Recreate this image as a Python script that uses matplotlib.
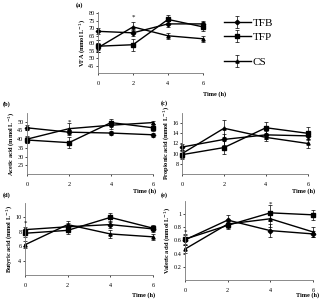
import matplotlib
matplotlib.use("Agg")
import matplotlib.pyplot as plt
import numpy as np

plt.rcParams['font.family'] = ['Liberation Serif', 'DejaVu Serif']

time_h = [0, 2, 4, 6]
series = ["TFB", "TFP", "CS"]
markers = {"TFB": "D", "TFP": "s", "CS": "^"}

# values, per panel: mean and error for each series
vfa = {"TFB": [68, 67, 73, 73], "TFP": [58, 59, 76, 71], "CS": [57, 71, 65, 63]}
vfa_err = {"TFB": [2, 2, 2, 2], "TFP": [4, 4, 3, 3], "CS": [3, 3, 2, 2]}
acetic = {"TFB": [46.5, 44, 43.5, 42.5], "TFP": [39.5, 38, 49.5, 46.5], "CS": [40, 46, 48, 49.5]}
acetic_err = {"TFB": [1.5, 1.5, 1, 1], "TFP": [2, 3, 2, 2], "CS": [2, 3, 2, 1]}
propionic = {"TFB": [11.3, 12.8, 13.7, 13.5], "TFP": [9.8, 11.2, 15.1, 14], "CS": [10, 15, 13.2, 12]}
propionic_err = {"TFB": [0.6, 1, 0.8, 0.8], "TFP": [0.8, 1.2, 1.2, 1.2], "CS": [0.8, 1.7, 0.8, 0.8]}
butyric = {"TFB": [8.3, 8.7, 9, 8.4], "TFP": [7.8, 8.2, 10, 8.5], "CS": [6.2, 9, 7.7, 7.3]}
butyric_err = {"TFB": [0.4, 0.5, 0.5, 0.4], "TFP": [0.5, 0.5, 0.6, 0.4], "CS": [0.5, 0.5, 0.5, 0.4]}
valeric = {"TFB": [0.61, 0.91, 0.75, 0.70], "TFP": [0.62, 0.83, 1.02, 0.99], "CS": [0.47, 0.85, 0.93, 0.73]}
valeric_err = {"TFB": [0.08, 0.08, 0.1, 0.05], "TFP": [0.08, 0.05, 0.12, 0.08], "CS": [0.06, 0.06, 0.12, 0.07]}

panels = [
    # tag, data, err, ylabel, ylim, yticks, stars, axes box px (l, t, r, b), tag px, time label px
    ("(a)", vfa, vfa_err, "VFA (mmol L$^{-1}$)", (40, 81), np.arange(45, 81, 5), [(2, 77.5)],
     (98, 12, 203, 73), (76, 5), (203, 94)),
    ("(b)", acetic, acetic_err, "Acetic acid (mmol L$^{-1}$)", (20, 55), np.arange(25, 51, 5), [(2, 50)],
     (27, 113, 153, 174), (3, 104), (133, 191)),
    ("(c)", propionic, propionic_err, "Propionic acid (mmol L$^{-1}$)", (6, 18), np.arange(8, 17, 2), [],
     (182, 113, 308, 174), (161, 103), (292, 191)),
    ("(d)", butyric, butyric_err, "Butyric acid (mmol L$^{-1}$)", (2, 12), np.arange(4, 11, 2), [(0, 9.2)],
     (25, 203, 153, 275), (3, 195), (132, 295)),
    ("(e)", valeric, valeric_err, "Valeric acid (mmol L$^{-1}$)", (0, 1.2), [0.2, 0.4, 0.6, 0.8, 1.0],
     [(0, 0.72), (4, 1.15)], (185, 201, 313, 280), (161, 195), (296, 295)),
]

W, H = 320, 302
fig = plt.figure(figsize=(W / 100, H / 100), dpi=100)

handles = {}
for tag, data, err, ylabel, ylim, yticks, stars, box, tag_px, time_px in panels:
    l, t, r, b = box
    ax = fig.add_axes([l / W, 1 - b / H, (r - l) / W, (b - t) / H])
    for s in series:
        h = ax.errorbar(time_h, data[s], yerr=err[s], color='black', lw=1.0,
                        marker=markers[s], ms=2.3, elinewidth=0.5, capsize=1.2,
                        capthick=0.5, clip_on=False)
        handles[s] = h
    for sx, sy in stars:
        ax.text(sx, sy, "*", fontsize=5, ha='center', va='center')
    ax.set_xlim(0, 6)
    ax.set_ylim(*ylim)
    ax.set_xticks(time_h)
    ax.set_yticks(yticks)
    if tag == "(e)":
        ax.set_yticklabels(["0.2", "0.4", "0.6", "0.8", "1"])
    ax.tick_params(labelsize=4.5, length=1.5, width=0.5, pad=1)
    ax.tick_params(axis='x', pad=4)
    for sp in ['top', 'right']:
        ax.spines[sp].set_visible(False)
    for sp in ['left', 'bottom']:
        ax.spines[sp].set_linewidth(0.6)
        ax.spines[sp].set_color('#777777')
    ax.set_ylabel(ylabel, fontsize=4.5, fontweight='bold', labelpad=1)
    fig.text(time_px[0] / W, 1 - time_px[1] / H, "Time (h)", fontsize=4.5,
             fontweight='bold', ha='left', va='center')
    fig.text(tag_px[0] / W, 1 - tag_px[1] / H, tag, fontsize=4.5,
             fontweight='bold', ha='left', va='center')

# legend to the right of panel (a)
for s, ypix in zip(series, [23, 37, 62]):
    fig.legend([handles[s]], [s], loc='center left',
               bbox_to_anchor=(224 / W, 1 - ypix / H), frameon=False,
               fontsize=8, handlelength=2.4, handletextpad=0.15,
               borderpad=0, borderaxespad=0)

fig.savefig("out.png", dpi=100)
